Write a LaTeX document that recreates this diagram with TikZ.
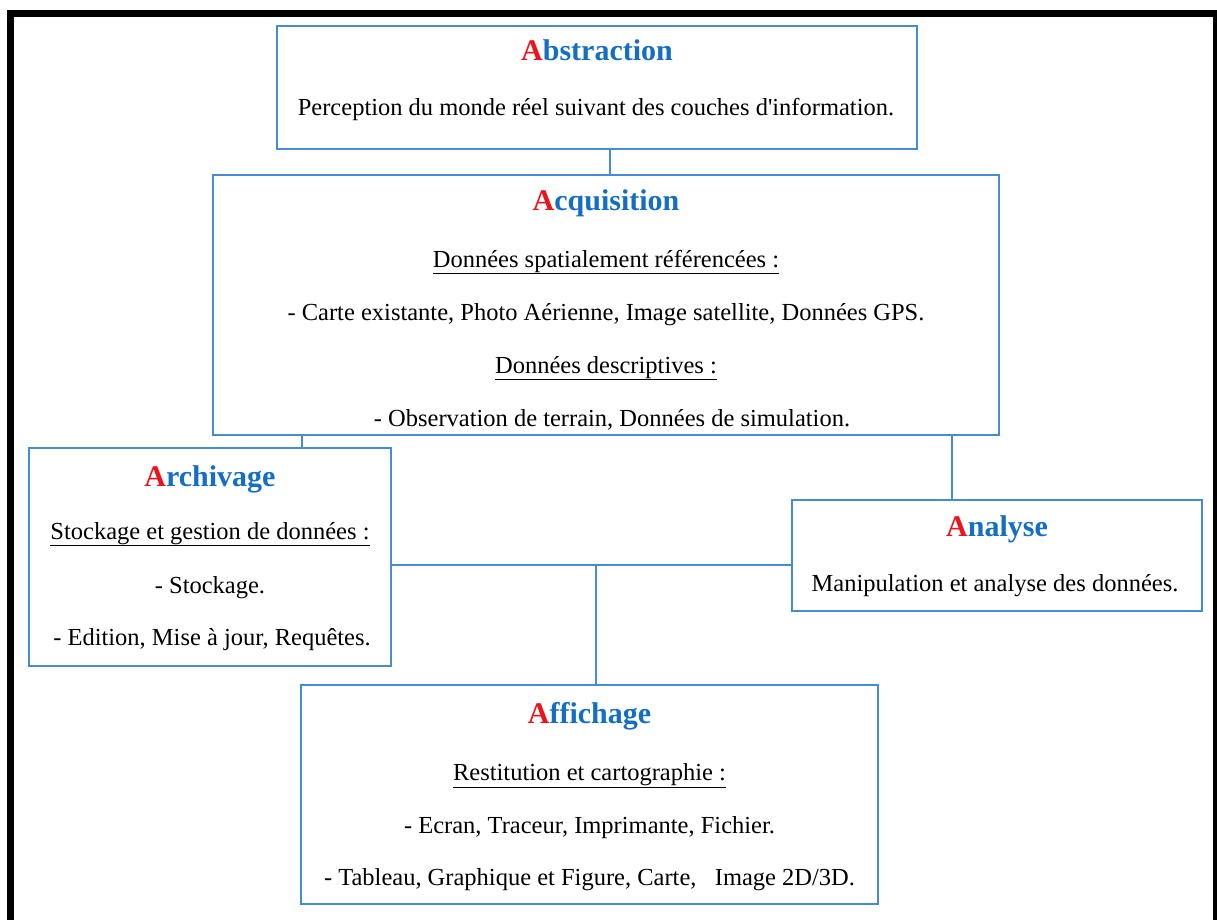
\documentclass[tikz,border=0pt]{standalone}
\usepackage{fontspec}
\setmainfont{Liberation Serif}
\definecolor{boxblue}{RGB}{70,140,210}
\definecolor{titleblue}{RGB}{20,110,195}
\definecolor{titlered}{RGB}{235,20,30}
\newcommand{\ttl}[2]{\textbf{\textcolor{titlered}{#1}\textcolor{titleblue}{#2}}}
\begin{document}
\begin{tikzpicture}[x=1pt,y=-1pt,
  box/.style={draw=boxblue,line width=1.8pt,rectangle,inner sep=0pt},
  titletext/.style={font=\fontsize{30}{33}\selectfont,inner sep=0pt,anchor=base},
  bodytext/.style={font=\fontsize{24.5}{28}\selectfont,inner sep=0pt,anchor=base},
  conn/.style={draw=boxblue,line width=1.8pt}]
\useasboundingbox (0,0) rectangle (1217,919);
\begin{scope}
\clip (0,0) rectangle (1217,919);
\draw[line width=7pt] (10.5,13.5) rectangle (1216.5,940);
\end{scope}
% boxes
\node[box,minimum width=640,minimum height=123] (abs) at (597,87.5) {};
\node[box,minimum width=786,minimum height=260] (acq) at (606,305) {};
\node[box,minimum width=362,minimum height=218] (arc) at (210,557) {};
\node[box,minimum width=410,minimum height=111] (ana) at (997,555.5) {};
\node[box,minimum width=577,minimum height=219] (aff) at (589.5,794.5) {};
% texts
\node[titletext] (t1) at (597,60) {\ttl{A}{bstraction}};
\node[bodytext] (b1) at (596,115) {Perception du monde réel suivant des couches d\textquotesingle information.};
\node[titletext] (t2) at (606,210) {\ttl{A}{cquisition}};
\node[bodytext] (b2) at (606,267) {\underline{Données spatialement référencées :}};
\node[bodytext] (b3) at (606,320) {- Carte existante, Photo Aérienne, Image satellite, Données GPS.};
\node[bodytext] (b4) at (606,373) {\underline{Données descriptives :}};
\node[bodytext] (b5) at (612,426) {- Observation de terrain, Données de simulation.};
\node[titletext] (t3) at (210,486) {\ttl{A}{rchivage}};
\node[bodytext] (b6) at (210,539) {\underline{Stockage et gestion de données :}};
\node[bodytext] (b7) at (210,593) {- Stockage.};
\node[bodytext] (b8) at (212,645) {- Edition, Mise à jour, Requêtes.};
\node[titletext] (t4) at (997,536) {\ttl{A}{nalyse}};
\node[bodytext] (b9) at (995,591) {Manipulation et analyse des données.};
\node[titletext] (t5) at (589.5,723) {\ttl{A}{ffichage}};
\node[bodytext] (b10) at (589.5,780) {\underline{Restitution et cartographie :}};
\node[bodytext] (b11) at (589.5,833) {- Ecran, Traceur, Imprimante, Fichier.};
\node[bodytext] (b12) at (589.5,885) {- Tableau, Graphique et Figure, Carte,\ \ \ Image 2D/3D.};
% connectors
\coordinate (c1) at (610,162);
\coordinate (c2) at (302,441);
\coordinate (c3) at (952,468);
\coordinate (hy) at (596,565);
\draw[conn] (c1 |- abs.south) -- (c1 |- acq.north);
\draw[conn] (c2 |- acq.south) -- (c2 |- arc.north);
\draw[conn] (c3 |- acq.south) -- (c3 |- ana.north);
\draw[conn] (arc.east |- hy) -- (ana.west |- hy);
\draw[conn] (hy) -- (hy |- aff.north);
\end{tikzpicture}
\end{document}
